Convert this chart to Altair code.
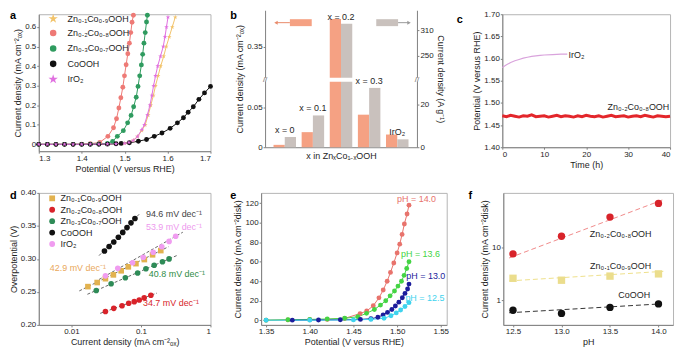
import altair as alt
import pandas as pd

FONT = "Liberation Sans"
AXC = "#808080"
TXT = "#1e1e1e"
FRAME = "#b4b4b4"
STAR = "M0,-1L0.2245,-0.309L0.951,-0.309L0.363,0.118L0.588,0.809L0,0.382L-0.588,0.809L-0.363,0.118L-0.951,-0.309L-0.2245,-0.309Z"

# ---------------- panel a data ----------------
a_series = ["Zn₀.₁Co₀.₉OOH", "Zn₀.₂Co₀.₈OOH", "Zn₀.₃Co₀.₇OOH", "CoOOH", "IrO₂"]
a_colors = ["#F2C36A", "#EE7A76", "#2F9B5F", "#111111", "#E070E0"]
a_shapes = [STAR, "circle", "circle", "circle", STAR]
a_v_zn01 = [1.30, 1.32, 1.34, 1.36, 1.38, 1.40, 1.42, 1.44, 1.46, 1.48, 1.50, 1.51, 1.52, 1.53, 1.54,
            1.548, 1.555, 1.561, 1.567, 1.572, 1.578, 1.584, 1.591, 1.597, 1.604, 1.611, 1.618]
a_j_zn01 = [0, 0, 0, 0, 0, 0, 0.001, 0.001, 0.002, 0.003, 0.005, 0.01, 0.02, 0.04, 0.07,
            0.10, 0.15, 0.20, 0.25, 0.30, 0.35, 0.40, 0.45, 0.50, 0.55, 0.60, 0.65]
a_v_zn02 = [1.30, 1.32, 1.34, 1.36, 1.38, 1.40, 1.42, 1.442, 1.461, 1.4741, 1.4811, 1.4866, 1.4912,
            1.4958, 1.4996, 1.5035, 1.5074, 1.5111, 1.5143, 1.5173, 1.5204]
a_j_zn02 = [0, 0, 0, 0, 0, 0.001, 0.003, 0.01, 0.041, 0.085, 0.131, 0.186, 0.238,
            0.292, 0.350, 0.407, 0.463, 0.517, 0.571, 0.624, 0.66]
a_v_zn03 = [1.30, 1.32, 1.34, 1.36, 1.38, 1.40, 1.42, 1.44, 1.46, 1.472, 1.483, 1.497, 1.507, 1.515,
            1.521, 1.527, 1.5312, 1.5351, 1.539, 1.542, 1.545, 1.548, 1.551, 1.553]
a_j_zn03 = [0, 0, 0, 0, 0, 0, 0.001, 0.002, 0.005, 0.015, 0.041, 0.07, 0.11, 0.148,
            0.192, 0.241, 0.296, 0.350, 0.406, 0.46, 0.517, 0.571, 0.625, 0.66]
a_v_co = [1.30, 1.32, 1.34, 1.36, 1.38, 1.40, 1.42, 1.44, 1.46, 1.48, 1.492, 1.511, 1.532, 1.551,
          1.569, 1.587, 1.606, 1.623, 1.637, 1.648, 1.660, 1.673, 1.686, 1.700]
a_j_co = [0, 0, 0, 0, 0, 0, 0, 0, 0.001, 0.003, 0.005, 0.008, 0.016, 0.025,
          0.041, 0.058, 0.082, 0.11, 0.136, 0.164, 0.192, 0.23, 0.263, 0.296]
a_v_ir = [1.30, 1.32, 1.34, 1.36, 1.38, 1.40, 1.42, 1.44, 1.46, 1.48, 1.50, 1.51, 1.52, 1.53, 1.54,
          1.546, 1.553, 1.559, 1.5635, 1.5675, 1.572, 1.577, 1.5835, 1.590, 1.594, 1.5975, 1.601]
a_j_ir = [0, 0, 0, 0, 0, 0, 0.001, 0.001, 0.002, 0.003, 0.005, 0.01, 0.02, 0.04, 0.075,
          0.10, 0.15, 0.20, 0.25, 0.30, 0.35, 0.40, 0.45, 0.50, 0.55, 0.60, 0.65]

# ---------------- panel b data ----------------
b_cats = ["x = 0", "x = 0.1", "x = 0.2", "x = 0.3", "IrO₂"]
b_left = [0.003, 0.019, 0.385, 0.041, 0.016]      # mA cm-2 ox
b_right = [4.8, 14.9, 326, 27.8, 3.7]             # A g-1
b_left_dom = [0, 0.0825, 0.3114, 0.3959]
b_right_dom = [0, 30.7, 196.9, 358.5]
b_left_ticks = [0, 0.05, 0.35]
b_right_ticks = [0, 20, 250, 310]

# ---------------- panel c data ----------------
c_t_ir = [0, 1, 2, 3, 4, 5, 6, 7, 8, 9, 10, 12, 14, 15.5]
c_v_ir = [1.580, 1.586, 1.591, 1.595, 1.598, 1.601, 1.603, 1.605, 1.606, 1.607, 1.608, 1.609, 1.610, 1.610]
c_t_zn = list(range(0, 41))
c_v_zn = [1.471, 1.469, 1.472, 1.470, 1.468, 1.471, 1.470, 1.473, 1.469, 1.470, 1.471, 1.468, 1.470, 1.472,
          1.469, 1.471, 1.470, 1.468, 1.471, 1.469, 1.472, 1.470, 1.469, 1.471, 1.468, 1.470, 1.472, 1.469,
          1.470, 1.471, 1.468, 1.470, 1.471, 1.469, 1.472, 1.470, 1.468, 1.471, 1.470, 1.469, 1.470]

# ---------------- panel d data ----------------
d_series = a_series
d_colors = ["#E2B24F", "#D8232A", "#2E8B57", "#111111", "#F09CF0"]
d_shapes = ["square", "circle", "circle", "circle", "circle"]
d_x_zn01 = [0.0173, 0.0235, 0.0309, 0.0402, 0.052, 0.0659, 0.0848, 0.112, 0.147, 0.193]
d_y_zn01 = [0.258, 0.2642, 0.270, 0.2758, 0.282, 0.288, 0.2928, 0.299, 0.3062, 0.3126]
d_x_zn02 = [0.0309, 0.0407, 0.0535, 0.0667, 0.0802, 0.0946, 0.1115, 0.139]
d_y_zn02 = [0.2203, 0.2251, 0.229, 0.2329, 0.2352, 0.2377, 0.241, 0.2449]
d_x_zn03 = [0.0228, 0.0373, 0.0597, 0.0897, 0.118, 0.155, 0.204, 0.254]
d_y_zn03 = [0.2522, 0.2623, 0.2714, 0.2787, 0.2851, 0.2903, 0.2957, 0.300]
d_x_co = [0.0299, 0.0349, 0.0407, 0.0474, 0.0548, 0.0631, 0.072, 0.082]
d_y_co = [0.312, 0.3188, 0.3256, 0.3329, 0.3401, 0.3474, 0.3546, 0.3613]
d_x_ir = [0.0309, 0.0465, 0.076, 0.108, 0.150, 0.1995, 0.254, 0.316]
d_y_ir = [0.2743, 0.2859, 0.2942, 0.3025, 0.3101, 0.3184, 0.3265, 0.3343]
d_fit_x = [[0.013, 0.25], [0.026, 0.17], [0.017, 0.33], [0.025, 0.095], [0.025, 0.40]]
d_fit_y = [[0.2515, 0.3185], [0.2175, 0.2482], [0.2464, 0.3052], [0.305, 0.368], [0.2688, 0.3404]]
d_note_text = ["94.6 mV dec⁻¹", "53.9 mV dec⁻¹", "42.9 mV dec⁻¹", "40.8 mV dec⁻¹", "34.7 mV dec⁻¹"]
d_note_x = [0.118, 0.118, 0.0049, 0.13, 0.107]
d_note_y = [0.368, 0.348, 0.286, 0.2764, 0.233]
d_note_color = ["#444444", "#EE9AEE", "#E9A85C", "#2E8B45", "#D7262B"]

# ---------------- panel e data ----------------
e_series = ["pH = 14.0", "pH = 13.6", "pH = 13.0", "pH = 12.5"]
e_colors = ["#E8736C", "#44D444", "#1C1C9C", "#3FD3EE"]
e_v_140 = [1.35, 1.375, 1.40, 1.42, 1.44, 1.4576, 1.4652, 1.4727, 1.4792, 1.4841, 1.4886, 1.4924,
           1.4962, 1.50, 1.503, 1.5057, 1.5083, 1.5114, 1.5136]
e_j_140 = [0, 0.3, 0.5, 0.8, 1.8, 6.8, 9.4, 14.8, 22.9, 31, 40, 49, 58.7, 69, 78, 88, 98.7, 109, 118]
e_v_136 = [1.35, 1.375, 1.40, 1.42, 1.44, 1.455, 1.465, 1.474, 1.481, 1.487, 1.492, 1.497, 1.501,
           1.505, 1.508, 1.511, 1.5136]
e_j_136 = [0, 0.5, 0.8, 1.2, 2, 3.5, 7, 11, 15.5, 20, 25, 30, 35, 40, 46, 53, 60]
e_v_130 = [1.38, 1.41, 1.435, 1.458, 1.47, 1.478, 1.484, 1.489, 1.494, 1.498, 1.502, 1.506, 1.509,
           1.512, 1.5136]
e_j_130 = [0, 0.2, 0.4, 0.8, 1.5, 3, 5.5, 8, 11, 14.5, 18.5, 23, 27.5, 32, 37]
e_v_125 = [1.35, 1.40, 1.45, 1.47, 1.485, 1.493, 1.499, 1.504, 1.509, 1.5136]
e_j_125 = [0, 0, 0.3, 0.8, 2, 4.5, 7.5, 10.5, 14, 18]
e_note_x = [1.50, 1.5045, 1.5106, 1.5095]
e_note_y = [124.6, 67.5, 44.8, 22.9]

# ---------------- panel f data ----------------
f_series = ["Zn₀.₂Co₀.₈OOH", "Zn₀.₁Co₀.₉OOH", "CoOOH"]
f_colors = ["#D8232A", "#EBDD8C", "#111111"]
f_fit_colors = ["#F08A8A", "#EEE08A", "#333333"]
f_shapes = ["circle", "square", "circle"]
f_ph = [12.5, 13.0, 13.5, 14.0]
f_zn02 = [7.55, 16.3, 37.7, 68.5]
f_zn01 = [2.59, 2.38, 2.85, 3.14]
f_co = [0.64, 0.556, 0.724, 0.845]
f_fit_x = [[12.46, 14.05], [12.46, 14.05], [12.46, 14.03]]
f_fit_y = [[6.3, 81.0], [2.31, 3.51], [0.573, 0.846]]
f_note_x = [13.61, 13.61, 13.75]
f_note_y = [17.97, 4.46, 1.27]

ONE = pd.DataFrame({"d": [0]})


def letter(ch, dx, dy):
    return alt.Chart(ONE).mark_text(text=ch, font=FONT, fontSize=11, fontWeight="bold",
                                    align="left", baseline="top", color="#000").encode(
        x=alt.value(dx), y=alt.value(dy))


def spacer(w):
    return alt.Chart(ONE).mark_point(opacity=0).encode(
        x=alt.value(0), y=alt.value(0)).properties(
        width=w, height=10, view=alt.ViewBackground(strokeOpacity=0))


# ================= panel a =================
a_rows = []
for s, vs, js in zip(a_series, [a_v_zn01, a_v_zn02, a_v_zn03, a_v_co, a_v_ir],
                     [a_j_zn01, a_j_zn02, a_j_zn03, a_j_co, a_j_ir]):
    a_rows += [{"s": s, "v": v, "j": j} for v, j in zip(vs, js)]
a_df = pd.DataFrame(a_rows)
a_x = alt.X("v:Q", scale=alt.Scale(domain=[1.3, 1.7], nice=False, zero=False),
            axis=alt.Axis(values=[1.3, 1.4, 1.5, 1.6, 1.7], format=".1f",
                          title="Potential (V versus RHE)"))
a_y = alt.Y("j:Q", scale=alt.Scale(domain=[-0.035, 0.665], nice=False, zero=False),
            axis=alt.Axis(values=[0, 0.1, 0.2, 0.3, 0.4, 0.5, 0.6],
                          labelExpr="datum.value == 0 ? '0' : format(datum.value, '.1f')",
                          title="Current density (mA cm⁻²ₒₓ)"))
a_leg = alt.Legend(title=None, orient="none", legendX=10, legendY=0, labelFontSize=9,
                   symbolSize=26, rowPadding=2.5, padding=0, labelOffset=10)
a_col = alt.Color("s:N", scale=alt.Scale(domain=a_series, range=a_colors), legend=a_leg)
a_shp = alt.Shape("s:N", scale=alt.Scale(domain=a_series, range=a_shapes), legend=a_leg)
pa = alt.layer(
    alt.Chart(a_df).mark_line(strokeWidth=1, clip=True).encode(x=a_x, y=a_y, color=a_col),
    alt.Chart(a_df).mark_point(filled=True, size=24, opacity=1).encode(x=a_x, y=a_y, color=a_col, shape=a_shp),
    letter("a", -29, -4),
).properties(width=173, height=138)

# ================= panel b =================
b_df = pd.DataFrame({"cat": b_cats, "left": b_left, "right": b_right})
b_range = [134, 68, 64, -4]
bx = alt.X("cat:N", sort=b_cats,
           scale=alt.Scale(domain=b_cats, paddingInner=0.2, paddingOuter=0.3),
           axis=alt.Axis(labels=False, ticks=False, title="x in ZnₓCo₁₋ₓOOH", titlePadding=4))
b_off = alt.XOffset("side:N", scale=alt.Scale(domain=["L", "R"]))
b_or = alt.Chart(b_df).transform_calculate(side="'L'").mark_bar(color="#F5A183").encode(
    x=bx, xOffset=b_off,
    y=alt.Y("left:Q", scale=alt.Scale(domain=b_left_dom, range=b_range, nice=False, zero=False),
            axis=alt.Axis(orient="left", values=b_left_ticks,
                          labelExpr="datum.value == 0 ? '0' : format(datum.value, '.2f')",
                          title="Current density (mA cm⁻²ₒₓ)")))
b_gr = alt.Chart(b_df).transform_calculate(side="'R'").mark_bar(color="#C9C1BD").encode(
    x=bx, xOffset=b_off,
    y=alt.Y("right:Q", scale=alt.Scale(domain=b_right_dom, range=b_range, nice=False, zero=False),
            axis=alt.Axis(orient="right", values=b_right_ticks, format="d",
                          title="Current density (A g⁻¹)")))
b_txt = alt.Chart(b_df).mark_text(baseline="bottom", dy=-2, fontSize=9, font=FONT, color=TXT).encode(
    x=bx, text="cat:N",
    y=alt.Y("right:Q", scale=alt.Scale(domain=b_right_dom, range=b_range, nice=False, zero=False),
            axis=None))
b_break = alt.Chart(ONE).mark_rect(color="white").encode(
    x=alt.value(-6), x2=alt.value(159), y=alt.value(64), y2=alt.value(68))
b_brkL = alt.Chart(ONE).mark_text(text="//", fontSize=8, color="#666").encode(x=alt.value(0), y=alt.value(66))
b_brkR = alt.Chart(ONE).mark_text(text="//", fontSize=8, color="#666").encode(x=alt.value(153), y=alt.value(66))
b_keyL = alt.Chart(ONE).mark_rect(color="#F5A183").encode(
    x=alt.value(25), x2=alt.value(47), y=alt.value(5), y2=alt.value(12))
b_arrL = alt.Chart(ONE).mark_rule(color="#E98A6A", strokeWidth=1).encode(
    x=alt.value(12), x2=alt.value(25), y=alt.value(8.5))
b_headL = alt.Chart(ONE).mark_point(shape="triangle-left", filled=True, size=16, color="#E98A6A",
                                    opacity=1).encode(x=alt.value(11), y=alt.value(8.5))
b_keyR = alt.Chart(ONE).mark_rect(color="#C9C1BD").encode(
    x=alt.value(112), x2=alt.value(134), y=alt.value(5), y2=alt.value(12))
b_arrR = alt.Chart(ONE).mark_rule(color="#999999", strokeWidth=1).encode(
    x=alt.value(134), x2=alt.value(144), y=alt.value(8.5))
b_headR = alt.Chart(ONE).mark_point(shape="triangle-right", filled=True, size=16, color="#999999",
                                    opacity=1).encode(x=alt.value(145), y=alt.value(8.5))
pb = alt.layer(b_or, b_gr, b_break, b_brkL, b_brkR, b_txt, b_keyL, b_arrL, b_headL,
               b_keyR, b_arrR, b_headR, letter("b", -35, -4)).resolve_scale(
    y="independent").properties(width=153, height=134, view=alt.ViewBackground(strokeOpacity=0))

# ================= panel c =================
c_x = alt.X("t:Q", scale=alt.Scale(domain=[0, 40], nice=False),
            axis=alt.Axis(values=[0, 10, 20, 30, 40], title="Time (h)"))
c_y = alt.Y("v:Q", scale=alt.Scale(domain=[1.40, 1.70], nice=False, zero=False),
            axis=alt.Axis(values=[1.40, 1.45, 1.50, 1.55, 1.60, 1.65, 1.70], format=".2f",
                          title="Potential (V versus RHE)"))
c_note_ir = pd.DataFrame({"t": [15.8], "v": [1.608], "lbl": ["IrO₂"]})
c_note_zn = pd.DataFrame({"t": [39.8], "v": [1.49], "lbl": ["Zn₀.₂Co₀.₈OOH"]})
pc = alt.layer(
    alt.Chart(pd.DataFrame({"t": c_t_ir, "v": c_v_ir})).mark_line(color="#D9A3DC", strokeWidth=1.2).encode(x=c_x, y=c_y),
    alt.Chart(pd.DataFrame({"t": c_t_zn, "v": c_v_zn})).mark_line(color="#E3262B", strokeWidth=3).encode(x=c_x, y=c_y),
    alt.Chart(c_note_ir).mark_text(align="left", baseline="middle", fontSize=9, font=FONT, color=TXT).encode(
        x=c_x, y=c_y, text="lbl:N"),
    alt.Chart(c_note_zn).mark_text(align="right", baseline="middle", fontSize=9, font=FONT, color=TXT).encode(
        x=c_x, y=c_y, text="lbl:N"),
    letter("c", -46, 0),
).properties(width=169, height=134)

# ================= panel d =================
d_rows = []
for s, xs, ys in zip(d_series, [d_x_zn01, d_x_zn02, d_x_zn03, d_x_co, d_x_ir],
                     [d_y_zn01, d_y_zn02, d_y_zn03, d_y_co, d_y_ir]):
    d_rows += [{"s": s, "c": x, "o": y} for x, y in zip(xs, ys)]
d_df = pd.DataFrame(d_rows)
d_fit_rows = []
for s, xs, ys in zip(d_series, d_fit_x, d_fit_y):
    d_fit_rows += [{"s": s, "c": x, "o": y} for x, y in zip(xs, ys)]
d_fit_df = pd.DataFrame(d_fit_rows)
d_x = alt.X("c:Q", scale=alt.Scale(type="log", domain=[0.0034, 1], nice=False),
            axis=alt.Axis(values=[0.01, 0.1, 1], format="~g", title="Current density (mA cm⁻²ₒₓ)"))
d_y = alt.Y("o:Q", scale=alt.Scale(domain=[0.2, 0.4], nice=False, zero=False),
            axis=alt.Axis(values=[0.20, 0.25, 0.30, 0.35, 0.40], format=".2f", title="Overpotential (V)"))
d_leg = alt.Legend(title=None, orient="none", legendX=9, legendY=1, labelFontSize=9,
                   symbolSize=34, rowPadding=1.5, padding=0, labelOffset=4)
d_col = alt.Color("s:N", scale=alt.Scale(domain=d_series, range=d_colors), legend=d_leg)
d_shp = alt.Shape("s:N", scale=alt.Scale(domain=d_series, range=d_shapes), legend=d_leg)
d_notes = pd.DataFrame({"c": d_note_x, "o": d_note_y, "lbl": d_note_text, "col": d_note_color})
pdd = alt.layer(
    alt.Chart(d_fit_df).mark_line(color="#555555", strokeWidth=0.9, strokeDash=[3, 2]).encode(
        x=d_x, y=d_y, detail="s:N"),
    alt.Chart(d_df).mark_point(filled=True, size=32, opacity=1).encode(x=d_x, y=d_y, color=d_col, shape=d_shp),
    alt.Chart(d_notes).mark_text(align="left", baseline="middle", fontSize=9, font=FONT).encode(
        x=d_x, y=d_y, text="lbl:N", color=alt.Color("col:N", scale=None)),
    letter("d", -29, -3),
).properties(width=173, height=133)

# ================= panel e =================
e_rows = []
for s, vs, js in zip(e_series, [e_v_140, e_v_136, e_v_130, e_v_125], [e_j_140, e_j_136, e_j_130, e_j_125]):
    e_rows += [{"s": s, "v": v, "j": j} for v, j in zip(vs, js)]
e_df = pd.DataFrame(e_rows)
e_x = alt.X("v:Q", scale=alt.Scale(domain=[1.3443, 1.5568], nice=False, zero=False),
            axis=alt.Axis(values=[1.35, 1.40, 1.45, 1.50, 1.55], format=".2f",
                          title="Potential (V versus RHE)"))
e_y = alt.Y("j:Q", scale=alt.Scale(domain=[-4.84, 130.6], nice=False, zero=False),
            axis=alt.Axis(values=[0, 20, 40, 60, 80, 100, 120], title="Current density (mA cm⁻²disk)"))
e_col = alt.Color("s:N", scale=alt.Scale(domain=e_series, range=e_colors), legend=None)
e_notes = pd.DataFrame({"v": e_note_x, "j": e_note_y, "s": e_series})
pe = alt.layer(
    alt.Chart(e_df).mark_line(strokeWidth=1).encode(x=e_x, y=e_y, color=e_col),
    alt.Chart(e_df).mark_point(filled=True, size=24, opacity=1).encode(x=e_x, y=e_y, color=e_col),
    alt.Chart(e_notes).mark_text(align="left", baseline="middle", fontSize=9, font=FONT).encode(
        x=e_x, y=e_y, text="s:N", color=e_col),
    letter("e", -31, -3),
).properties(width=187, height=133)

# ================= panel f =================
f_rows = []
for s, ys in zip(f_series, [f_zn02, f_zn01, f_co]):
    f_rows += [{"s": s, "p": p, "j": j} for p, j in zip(f_ph, ys)]
f_df = pd.DataFrame(f_rows)
f_fit_rows = []
for s, xs, ys in zip(f_series, f_fit_x, f_fit_y):
    f_fit_rows += [{"s": s, "p": x, "j": y} for x, y in zip(xs, ys)]
f_fit_df = pd.DataFrame(f_fit_rows)
f_x = alt.X("p:Q", scale=alt.Scale(domain=[12.4, 14.15], nice=False, zero=False),
            axis=alt.Axis(values=[12.5, 13.0, 13.5, 14.0], format=".1f", title="pH"))
f_y = alt.Y("j:Q", scale=alt.Scale(type="log", domain=[0.3367, 108.7], nice=False),
            axis=alt.Axis(values=[1, 10], format="d", title="Current density (mA cm⁻²disk)"))
f_fitcol = alt.Color("s:N", scale=alt.Scale(domain=f_series, range=f_fit_colors), legend=None)
f_col = alt.Color("s:N", scale=alt.Scale(domain=f_series, range=f_colors), legend=None)
f_shp = alt.Shape("s:N", scale=alt.Scale(domain=f_series, range=f_shapes), legend=None)
f_notes = pd.DataFrame({"p": f_note_x, "j": f_note_y, "s": f_series})
pf = alt.layer(
    alt.Chart(f_fit_df).mark_line(strokeWidth=1, strokeDash=[5, 3]).encode(x=f_x, y=f_y, color=f_fitcol),
    alt.Chart(f_df).mark_point(filled=True, size=55, opacity=1).encode(x=f_x, y=f_y, color=f_col, shape=f_shp),
    alt.Chart(f_notes).mark_text(align="center", baseline="middle", fontSize=9, font=FONT, color=TXT).encode(
        x=f_x, y=f_y, text="s:N"),
    letter("f", -35, -3),
).resolve_scale(color="independent").properties(width=171, height=133)

IND = dict(color="independent", shape="independent", x="independent", y="independent")
row1 = alt.hconcat(pa, spacer(55), pb, spacer(86), pc, spacing=0, bounds="flush").resolve_scale(**IND)
row2 = alt.hconcat(pdd, spacer(51), pe, spacer(57), pf, spacing=0, bounds="flush").resolve_scale(**IND)

chart = alt.vconcat(row1, row2, spacing=14).resolve_scale(**IND).properties(padding=0).configure(
    font=FONT).configure_axis(
    labelFontSize=8, titleFontSize=9, titleFontWeight="normal", labelColor=TXT, titleColor=TXT,
    domainColor=AXC, tickColor=AXC, tickSize=2, labelPadding=1, titlePadding=2, grid=False,
    labelFont=FONT, titleFont=FONT,
).configure_view(stroke=FRAME, strokeWidth=1).configure_legend(labelFont=FONT, labelColor=TXT)

chart.save("out.html", embed_options={"renderer": "svg", "actions": False})
